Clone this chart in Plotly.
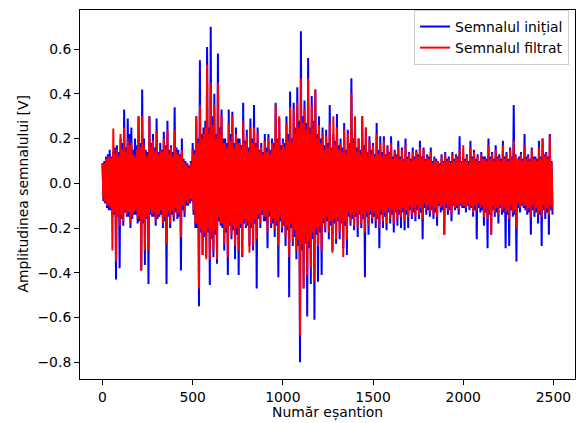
import plotly.graph_objects as go

# Positive peaks of the initial signal, one every 10 samples (samples 0, 10, 20, ...)
initial_peaks = [
    0.09, 0.10, 0.12, 0.13, 0.15, 0.12, 0.14, 0.16, 0.17, 0.14,
    0.20, 0.18, 0.33, 0.16, 0.29, 0.22, 0.25, 0.15, 0.20, 0.17,
    0.30, 0.18, 0.42, 0.20, 0.15, 0.14, 0.30, 0.18, 0.22, 0.16,
    0.29, 0.14, 0.18, 0.15, 0.23, 0.17, 0.28, 0.15, 0.17, 0.14,
    0.34, 0.16, 0.15, 0.13, 0.20, 0.11, 0.10, 0.09, 0.08, 0.10,
    0.18, 0.15, 0.30, 0.20, 0.55, 0.22, 0.25, 0.28, 0.61, 0.25,
    0.70, 0.30, 0.40, 0.22, 0.58, 0.25, 0.33, 0.20, 0.20, 0.18,
    0.33, 0.22, 0.32, 0.18, 0.25, 0.20, 0.20, 0.17, 0.36, 0.19,
    0.24, 0.16, 0.29, 0.20, 0.35, 0.18, 0.25, 0.15, 0.18, 0.14,
    0.22, 0.16, 0.22, 0.15, 0.20, 0.18, 0.36, 0.20, 0.29, 0.17,
    0.20, 0.18, 0.30, 0.22, 0.41, 0.20, 0.36, 0.25, 0.43, 0.28,
    0.68, 0.30, 0.37, 0.27, 0.56, 0.25, 0.39, 0.28, 0.42, 0.22,
    0.30, 0.20, 0.25, 0.17, 0.24, 0.18, 0.35, 0.16, 0.22, 0.19,
    0.31, 0.17, 0.20, 0.16, 0.27, 0.15, 0.24, 0.18, 0.47, 0.20,
    0.24, 0.16, 0.20, 0.15, 0.30, 0.17, 0.25, 0.14, 0.21, 0.15,
    0.18, 0.13, 0.27, 0.15, 0.21, 0.14, 0.21, 0.13, 0.17, 0.14,
    0.21, 0.12, 0.15, 0.13, 0.19, 0.12, 0.16, 0.11, 0.20, 0.12,
    0.14, 0.11, 0.16, 0.12, 0.15, 0.13, 0.19, 0.12, 0.16, 0.11,
    0.13, 0.12, 0.16, 0.10, 0.12, 0.11, 0.10, 0.09, 0.13, 0.10,
    0.14, 0.11, 0.12, 0.10, 0.14, 0.11, 0.13, 0.12, 0.21, 0.10,
    0.12, 0.11, 0.13, 0.10, 0.19, 0.12, 0.15, 0.11, 0.13, 0.10,
    0.14, 0.12, 0.12, 0.11, 0.20, 0.12, 0.14, 0.11, 0.17, 0.12,
    0.13, 0.11, 0.19, 0.12, 0.14, 0.11, 0.16, 0.12, 0.35, 0.13,
    0.11, 0.12, 0.14, 0.11, 0.22, 0.12, 0.13, 0.11, 0.16, 0.12,
    0.12, 0.11, 0.19, 0.12, 0.20, 0.13, 0.14, 0.12, 0.22, 0.10,
]
# Negative troughs of the initial signal, one every 10 samples (samples 5, 15, 25, ...)
initial_troughs = [
    -0.08, -0.09, -0.11, -0.12, -0.12, -0.15, -0.14, -0.43, -0.15, -0.38,
    -0.16, -0.19, -0.13, -0.15, -0.15, -0.20, -0.16, -0.14, -0.14, -0.18,
    -0.17, -0.39, -0.18, -0.365, -0.16, -0.45, -0.14, -0.15, -0.15, -0.19,
    -0.16, -0.15, -0.14, -0.20, -0.17, -0.45, -0.15, -0.20, -0.14, -0.17,
    -0.13, -0.16, -0.15, -0.39, -0.12, -0.15, -0.10, -0.10, -0.09, -0.08,
    -0.14, -0.20, -0.20, -0.55, -0.22, -0.32, -0.24, -0.33, -0.22, -0.455,
    -0.25, -0.33, -0.23, -0.36, -0.17, -0.19, -0.20, -0.30, -0.22, -0.41,
    -0.19, -0.25, -0.21, -0.34, -0.23, -0.41, -0.20, -0.33, -0.18, -0.20,
    -0.19, -0.28, -0.20, -0.30, -0.18, -0.47, -0.16, -0.20, -0.14, -0.17,
    -0.17, -0.29, -0.15, -0.20, -0.18, -0.24, -0.19, -0.42, -0.17, -0.22,
    -0.19, -0.28, -0.21, -0.51, -0.20, -0.28, -0.24, -0.34, -0.28, -0.80,
    -0.30, -0.47, -0.27, -0.595, -0.29, -0.45, -0.25, -0.61, -0.23, -0.44,
    -0.22, -0.41, -0.18, -0.22, -0.17, -0.25, -0.19, -0.30, -0.18, -0.27,
    -0.17, -0.25, -0.18, -0.29, -0.19, -0.32, -0.15, -0.19, -0.16, -0.21,
    -0.15, -0.24, -0.14, -0.20, -0.16, -0.42, -0.15, -0.23, -0.14, -0.18,
    -0.15, -0.20, -0.16, -0.29, -0.14, -0.20, -0.15, -0.21, -0.13, -0.18,
    -0.14, -0.22, -0.13, -0.19, -0.14, -0.20, -0.13, -0.21, -0.14, -0.20,
    -0.12, -0.16, -0.13, -0.17, -0.12, -0.16, -0.13, -0.25, -0.11, -0.14,
    -0.12, -0.15, -0.12, -0.16, -0.13, -0.19, -0.10, -0.13, -0.12, -0.23,
    -0.11, -0.14, -0.12, -0.17, -0.10, -0.12, -0.11, -0.14, -0.10, -0.11,
    -0.11, -0.13, -0.10, -0.12, -0.11, -0.15, -0.12, -0.25, -0.11, -0.13,
    -0.12, -0.19, -0.13, -0.29, -0.14, -0.23, -0.12, -0.15, -0.13, -0.18,
    -0.11, -0.14, -0.13, -0.29, -0.14, -0.28, -0.12, -0.15, -0.14, -0.35,
    -0.11, -0.13, -0.10, -0.11, -0.12, -0.14, -0.13, -0.23, -0.12, -0.15,
    -0.13, -0.18, -0.14, -0.28, -0.12, -0.16, -0.13, -0.23, -0.12, -0.14,
]
# Positive peaks of the filtered signal (samples 0, 10, 20, ...)
filtered_peaks = [
    0.09, 0.09, 0.11, 0.12, 0.12, 0.11, 0.245, 0.13, 0.15, 0.12,
    0.22, 0.15, 0.25, 0.14, 0.20, 0.17, 0.18, 0.13, 0.12, 0.15,
    0.30, 0.16, 0.30, 0.17, 0.13, 0.12, 0.30, 0.16, 0.19, 0.14,
    0.23, 0.13, 0.15, 0.14, 0.20, 0.15, 0.24, 0.13, 0.16, 0.12,
    0.24, 0.14, 0.13, 0.12, 0.15, 0.10, 0.09, 0.08, 0.07, 0.09,
    0.15, 0.13, 0.30, 0.18, 0.35, 0.20, 0.22, 0.25, 0.53, 0.22,
    0.45, 0.26, 0.35, 0.20, 0.45, 0.22, 0.30, 0.18, 0.18, 0.16,
    0.27, 0.19, 0.30, 0.16, 0.22, 0.18, 0.18, 0.15, 0.28, 0.17,
    0.21, 0.14, 0.25, 0.18, 0.25, 0.16, 0.22, 0.14, 0.16, 0.13,
    0.19, 0.14, 0.20, 0.13, 0.18, 0.16, 0.35, 0.18, 0.30, 0.15,
    0.18, 0.16, 0.27, 0.19, 0.34, 0.18, 0.33, 0.22, 0.36, 0.25,
    0.47, 0.27, 0.33, 0.24, 0.47, 0.22, 0.35, 0.25, 0.42, 0.20,
    0.26, 0.18, 0.22, 0.15, 0.21, 0.16, 0.27, 0.14, 0.30, 0.17,
    0.25, 0.15, 0.18, 0.14, 0.24, 0.13, 0.22, 0.16, 0.40, 0.18,
    0.30, 0.14, 0.20, 0.13, 0.30, 0.15, 0.25, 0.12, 0.19, 0.13,
    0.17, 0.12, 0.22, 0.13, 0.18, 0.12, 0.19, 0.12, 0.16, 0.13,
    0.18, 0.11, 0.14, 0.12, 0.16, 0.11, 0.15, 0.10, 0.17, 0.11,
    0.13, 0.10, 0.14, 0.11, 0.14, 0.12, 0.16, 0.11, 0.15, 0.10,
    0.12, 0.11, 0.14, 0.09, 0.11, 0.10, 0.10, 0.08, 0.12, 0.09,
    0.13, 0.10, 0.11, 0.09, 0.13, 0.10, 0.12, 0.11, 0.15, 0.09,
    0.17, 0.10, 0.12, 0.09, 0.16, 0.11, 0.14, 0.10, 0.12, 0.09,
    0.13, 0.11, 0.11, 0.10, 0.17, 0.11, 0.13, 0.10, 0.15, 0.11,
    0.12, 0.10, 0.17, 0.11, 0.13, 0.10, 0.15, 0.11, 0.19, 0.12,
    0.11, 0.11, 0.13, 0.10, 0.17, 0.11, 0.12, 0.10, 0.15, 0.11,
    0.11, 0.10, 0.16, 0.11, 0.20, 0.12, 0.13, 0.11, 0.21, 0.09,
]
# Negative troughs of the filtered signal (samples 5, 15, 25, ...)
filtered_troughs = [
    -0.07, -0.08, -0.10, -0.10, -0.11, -0.30, -0.13, -0.35, -0.14, -0.19,
    -0.14, -0.17, -0.12, -0.14, -0.13, -0.18, -0.14, -0.13, -0.12, -0.16,
    -0.15, -0.39, -0.16, -0.30, -0.15, -0.30, -0.12, -0.14, -0.13, -0.17,
    -0.14, -0.14, -0.12, -0.18, -0.15, -0.27, -0.13, -0.18, -0.12, -0.15,
    -0.11, -0.14, -0.13, -0.24, -0.10, -0.13, -0.08, -0.09, -0.07, -0.07,
    -0.12, -0.18, -0.18, -0.47, -0.20, -0.32, -0.22, -0.34, -0.20, -0.34,
    -0.22, -0.30, -0.21, -0.34, -0.15, -0.18, -0.18, -0.27, -0.20, -0.33,
    -0.17, -0.23, -0.19, -0.28, -0.20, -0.30, -0.18, -0.32, -0.16, -0.19,
    -0.17, -0.31, -0.18, -0.28, -0.16, -0.25, -0.14, -0.18, -0.12, -0.15,
    -0.15, -0.22, -0.13, -0.18, -0.16, -0.21, -0.17, -0.28, -0.15, -0.20,
    -0.17, -0.24, -0.19, -0.33, -0.18, -0.26, -0.21, -0.30, -0.25, -0.68,
    -0.27, -0.47, -0.24, -0.41, -0.26, -0.38, -0.22, -0.44, -0.20, -0.28,
    -0.19, -0.30, -0.16, -0.20, -0.15, -0.22, -0.17, -0.31, -0.16, -0.25,
    -0.15, -0.22, -0.16, -0.33, -0.17, -0.25, -0.13, -0.17, -0.14, -0.19,
    -0.13, -0.20, -0.12, -0.18, -0.14, -0.22, -0.13, -0.19, -0.12, -0.16,
    -0.13, -0.17, -0.14, -0.20, -0.12, -0.17, -0.13, -0.18, -0.11, -0.16,
    -0.12, -0.18, -0.11, -0.16, -0.12, -0.15, -0.11, -0.17, -0.12, -0.15,
    -0.10, -0.14, -0.11, -0.15, -0.10, -0.14, -0.11, -0.16, -0.09, -0.12,
    -0.10, -0.13, -0.10, -0.14, -0.11, -0.15, -0.09, -0.11, -0.10, -0.23,
    -0.09, -0.12, -0.10, -0.14, -0.09, -0.11, -0.10, -0.12, -0.09, -0.10,
    -0.10, -0.11, -0.09, -0.11, -0.10, -0.13, -0.10, -0.12, -0.09, -0.11,
    -0.10, -0.15, -0.11, -0.16, -0.12, -0.23, -0.10, -0.13, -0.11, -0.14,
    -0.10, -0.12, -0.11, -0.13, -0.12, -0.16, -0.10, -0.13, -0.12, -0.20,
    -0.09, -0.11, -0.09, -0.10, -0.10, -0.12, -0.11, -0.15, -0.10, -0.13,
    -0.11, -0.14, -0.12, -0.15, -0.10, -0.13, -0.11, -0.14, -0.10, -0.12,
]

x_ticks = [0, 500, 1000, 1500, 2000, 2500]
y_ticks = [-0.8, -0.6, -0.4, -0.2, 0.0, 0.2, 0.4, 0.6]
STEP = 5


def interleave(peaks, troughs):
    xs, ys = [], []
    for i, (p, t) in enumerate(zip(peaks, troughs)):
        xs += [2 * i * STEP, (2 * i + 1) * STEP]
        ys += [p, t]
    return xs, ys


bx, by = interleave(initial_peaks, initial_troughs)
rx, ry = interleave(filtered_peaks, filtered_troughs)

allx = bx + rx
ally = by + ry
xmin, xmax = min(allx), max(allx)
ymin, ymax = min(ally), max(ally)
xpad = 0.05 * (xmax - xmin)
ypad = 0.05 * (ymax - ymin)

FONT = "DejaVu Sans"
FS = 13.9
fig = go.Figure()
fig.add_trace(go.Scatter(x=bx, y=by, mode="lines", name="Semnalul inițial",
                         line=dict(color="#0000ff", width=2, simplify=False)))
fig.add_trace(go.Scatter(x=rx, y=ry, mode="lines", name="Semnalul filtrat",
                         line=dict(color="#ff0000", width=2, simplify=False)))

axis_common = dict(showline=True, linecolor="black", linewidth=1, mirror=True,
                   ticks="outside", ticklen=5, tickwidth=1, tickcolor="black",
                   showgrid=False, zeroline=False, automargin=False,
                   tickfont=dict(family=FONT, size=FS, color="black"))
fig.update_layout(
    width=577, height=423,
    margin=dict(l=80, r=2, t=10, b=44),
    plot_bgcolor="white", paper_bgcolor="white",
    font=dict(family=FONT, size=FS, color="black"),
    xaxis=dict(range=[xmin - xpad, xmax + xpad], tickvals=x_ticks, **axis_common),
    yaxis=dict(range=[ymin - ypad, ymax + ypad], tickvals=y_ticks, tickformat=".1f",
               **axis_common),
    legend=dict(x=0.988, y=1.0, xanchor="right", yanchor="top",
                bgcolor="rgba(255,255,255,0.8)", bordercolor="#cccccc", borderwidth=1,
                font=dict(family=FONT, size=FS, color="black"),
                tracegroupgap=0),
    showlegend=True,
    annotations=[
        dict(text="Număr eșantion", xref="paper", yref="paper", x=0.5, y=0.0,
             xanchor="center", yanchor="middle", yshift=-(412 - 379), showarrow=False,
             font=dict(family=FONT, size=FS, color="black")),
        dict(text="Amplitudinea semnalului [V]", xref="paper", yref="paper", x=0.0, y=0.5,
             xanchor="center", yanchor="middle", xshift=-(80 - 22), textangle=-90,
             showarrow=False, font=dict(family=FONT, size=FS, color="black")),
    ],
)
fig.write_html("out.html", config={"displayModeBar": False},
               post_script="document.body.style.margin='0';")
